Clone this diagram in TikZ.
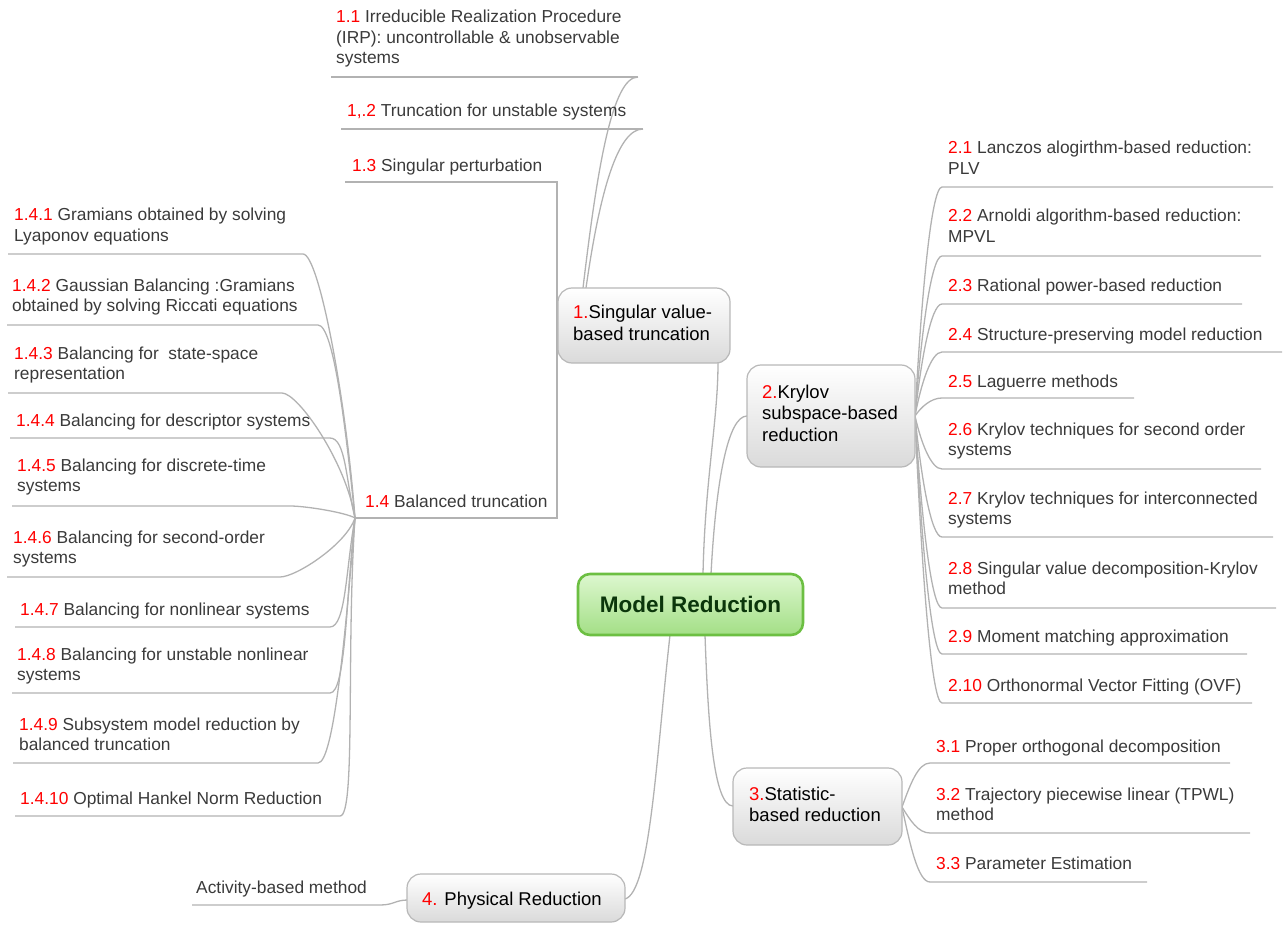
\documentclass[tikz,border=0pt]{standalone}
\usepackage{fontspec}
\setmainfont{Liberation Sans}
\usetikzlibrary{calc}
\definecolor{numred}{HTML}{FF0000}
\definecolor{leaftext}{HTML}{3A3A3A}
\definecolor{linegray}{HTML}{B2B2B2}
\definecolor{boxborder}{HTML}{B8B8B8}
\definecolor{boxbot}{HTML}{DADADA}
\definecolor{cborder}{HTML}{6CBF42}
\definecolor{ctop}{HTML}{DDF7CF}
\definecolor{cbot}{HTML}{A3DF86}
\definecolor{ctext}{HTML}{0B360B}
\newcommand\rn[1]{\textcolor{numred}{#1}}
\begin{document}
\begin{tikzpicture}[x=1pt,y=-1pt,
  leaf/.style={anchor=base west, inner sep=0pt, align=left, text=leaftext, font=\fontsize{17.35}{20.5}\selectfont},
  btext/.style={anchor=base west, inner sep=0pt, align=left, text=black, font=\fontsize{18.5}{21.5}\selectfont},
  branch/.style={draw=boxborder, line width=1.2pt, rounded corners=14pt, top color=white, bottom color=boxbot, inner sep=0pt},
  centerbox/.style={draw=cborder, line width=2.6pt, rounded corners=12pt, top color=ctop, bottom color=cbot, inner sep=0pt, text=ctext, font=\fontsize{22.5}{26}\selectfont\bfseries},
  conn/.style={draw=linegray, line width=1.3pt},
]
\useasboundingbox (0,0) rectangle (1285,925);

% junction coordinates
\coordinate (j14) at (355,518);

% ---------- connectors (drawn first) ----------
% center -> branches
\draw[conn] (703,574) .. controls (705,480) and (718,420) .. (718,363);
\draw[conn] (711,574) .. controls (716,480) and (728,416) .. (747,416);
\draw[conn] (705,635) .. controls (708,720) and (713,806) .. (733,806);
\draw[conn] (670,635) .. controls (656,760) and (650,892) .. (625,899);

% branch 1 -> 1.1, 1.2
\draw[conn] (331,77) -- (638,77);
\draw[conn] (583,288) .. controls (597,170) and (612,77) .. (638,77);
\draw[conn] (341,129) -- (643,129);
\draw[conn] (586,288) .. controls (600,190) and (618,129) .. (643,129);
% branch 1 -> 1.3, 1.4
\draw[conn] (345,182) -- (557,182) -- (557,518) -- (j14);

% 1.4 -> 1.4.x
\foreach \xl/\xr/\yy in {8/303/254, 7/318/325, 8/282/393, 10/330/438, 12/290/506, 7/280/577, 15/330/627, 12/330/693, 13/318/763, 15/340/816} {
  \draw[conn] (\xl,\yy) -- (\xr,\yy) .. controls (\xr+16,\yy) and (346,{518+0.45*(\yy-518)}) .. (j14);
}

% branch 2 -> 2.x
\coordinate (j2) at (915,416);
\foreach \xr/\yy in {1273/187, 1261/256, 1242/304, 1282/352, 1134/398, 1261/469, 1273/537, 1276/608, 1247/654, 1252/703} {
  \draw[conn] (j2) .. controls (921,{416+0.5*(\yy-416)}) and (931,\yy) .. (942,\yy) -- (\xr,\yy);
}

% branch 3 -> 3.x
\coordinate (j3) at (902,807);
\foreach \xr/\yy in {1230/763, 1250/833, 1147/882} {
  \draw[conn] (j3) .. controls (910,{807+0.5*(\yy-807)}) and (918,\yy) .. (930,\yy) -- (\xr,\yy);
}

% branch 4 -> activity
\draw[conn] (192,905) -- (380,905) .. controls (394,905) and (395,900) .. (408,900);

% ---------- boxes ----------
\node[centerbox, minimum width=225, minimum height=61] (c) at (690.5,604.5) {Model Reduction};
\node[branch, minimum width=172, minimum height=75] (b1) at (644,325.5) {};
\node[branch, minimum width=168, minimum height=102] (b2) at (831,416) {};
\node[branch, minimum width=169, minimum height=77] (b3) at (817.5,806.5) {};
\node[branch, minimum width=218, minimum height=48] (b4) at (516,898) {};

% (multi-line nodes: base anchor = baseline of last line)
\node[btext] (t1) at (573,340.5) {\rn{1.}Singular value-\\based truncation};
\node[btext] (t2) at (762,441) {\rn{2.}Krylov\\subspace-based\\reduction};
\node[btext] (t3) at (749,821.5) {\rn{3.}Statistic-\\based reduction};
\node[btext] (t4) at (422,905) {\rn{4.} Physical Reduction};

% ---------- leaf texts ----------
\node[leaf] (n11) at (336,64) {\rn{1.1} Irreducible Realization Procedure\\(IRP): uncontrollable \& unobservable\\systems};
\node[leaf] (n12) at (347,117) {\rn{1,.2} Truncation for unstable systems};
\node[leaf] (n13) at (352,172) {\rn{1.3} Singular perturbation};
\node[leaf] (n14) at (365,507) {\rn{1.4} Balanced truncation};

\node[leaf] (n141) at (14,241.5) {\rn{1.4.1} Gramians obtained by solving\\Lyaponov equations};
\node[leaf] (n142) at (12,311.5) {\rn{1.4.2} Gaussian Balancing :Gramians\\obtained by solving Riccati equations};
\node[leaf] (n143) at (14,379.5) {\rn{1.4.3} Balancing for\ \ state-space\\representation};
\node[leaf] (n144) at (16,426) {\rn{1.4.4} Balancing for descriptor systems};
\node[leaf] (n145) at (17,491.5) {\rn{1.4.5} Balancing for discrete-time\\systems};
\node[leaf] (n146) at (13,563.5) {\rn{1.4.6} Balancing for second-order\\systems};
\node[leaf] (n147) at (20,615) {\rn{1.4.7} Balancing for nonlinear systems};
\node[leaf] (n148) at (17,680.5) {\rn{1.4.8} Balancing for unstable nonlinear\\systems};
\node[leaf] (n149) at (19,750.5) {\rn{1.4.9} Subsystem model reduction by\\balanced truncation};
\node[leaf] (n1410) at (20,804) {\rn{1.4.10} Optimal Hankel Norm Reduction};

\node[leaf] (n21) at (948,174.5) {\rn{2.1} Lanczos alogirthm-based reduction:\\PLV};
\node[leaf] (n22) at (948,242.5) {\rn{2.2} Arnoldi algorithm-based reduction:\\MPVL};
\node[leaf] (n23) at (948,292) {\rn{2.3} Rational power-based reduction};
\node[leaf] (n24) at (948,341) {\rn{2.4} Structure-preserving model reduction};
\node[leaf] (n25) at (948,387) {\rn{2.5} Laguerre methods};
\node[leaf] (n26) at (948,455.5) {\rn{2.6} Krylov techniques for second order\\systems};
\node[leaf] (n27) at (948,524.5) {\rn{2.7} Krylov techniques for interconnected\\systems};
\node[leaf] (n28) at (948,594.5) {\rn{2.8} Singular value decomposition-Krylov\\method};
\node[leaf] (n29) at (948,642) {\rn{2.9} Moment matching approximation};
\node[leaf] (n210) at (948,691) {\rn{2.10} Orthonormal Vector Fitting (OVF)};

\node[leaf] (n31) at (936,752) {\rn{3.1} Proper orthogonal decomposition};
\node[leaf] (n32) at (936,820.5) {\rn{3.2} Trajectory piecewise linear (TPWL)\\method};
\node[leaf] (n33) at (936,869) {\rn{3.3} Parameter Estimation};

\node[leaf] (n41) at (196,893) {Activity-based method};
\end{tikzpicture}
\end{document}
